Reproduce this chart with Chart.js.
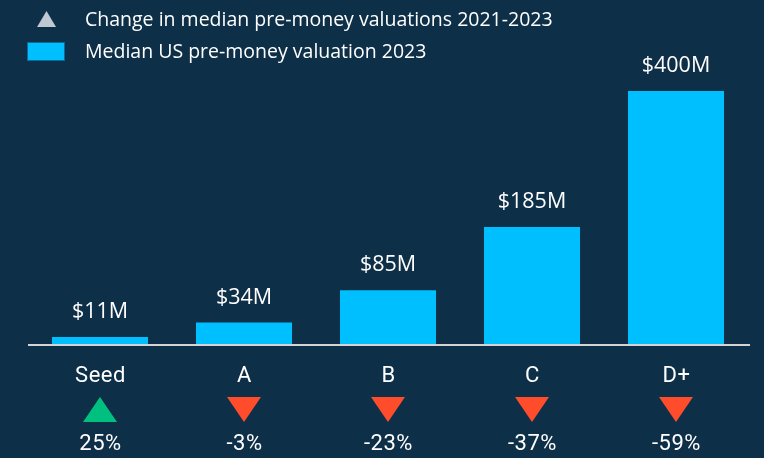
<!DOCTYPE html>
<html>
<head>
<meta charset="utf-8">
<script src="https://cdn.jsdelivr.net/npm/chart.js@4"></script>
<style>
  html, body { margin: 0; padding: 0; background: #0e2f48; }
  #wrap { width: 764px; height: 458px; }
</style>
</head>
<body>
<div id="wrap"><canvas id="chart" width="764" height="458"></canvas></div>
<script>
const stages = ['Seed', 'A', 'B', 'C', 'D+'];
const valuations = [11, 34, 85, 185, 400];
const changes = [25, -3, -23, -37, -59];
const legendLabels = ['Change in median pre-money valuations 2021-2023', 'Median US pre-money valuation 2023'];

const BG = '#0e2f48';
const BAR = '#00bfff';

const overlay = {
    id: 'overlay',
    afterDatasetsDraw(chart) {
        const ctx = chart.ctx;
        const area = chart.chartArea;
        const x = chart.scales.x;
        const meta = chart.getDatasetMeta(0);

        // axis line
        ctx.save();
        ctx.strokeStyle = '#d4d4d4';
        ctx.lineWidth = 2;
        ctx.beginPath();
        ctx.moveTo(area.left, area.bottom + 1);
        ctx.lineTo(area.right + 2, area.bottom + 1);
        ctx.stroke();

        // value labels
        ctx.fillStyle = '#ffffff';
        ctx.textAlign = 'center';
        ctx.textBaseline = 'middle';
        ctx.font = '21.5px "Open Sans", sans-serif';
        meta.data.forEach((bar, i) => {
            ctx.fillText('$' + valuations[i] + 'M', bar.x, bar.y - 25);
        });

        // category labels, arrows, percentages
        ctx.letterSpacing = '0.5px';
        stages.forEach((s, i) => {
            const px = x.getPixelForValue(i);
            ctx.fillStyle = '#ffffff';
            ctx.font = '22px Roboto, sans-serif';
            ctx.fillText(s, px + 0.5, 376);

            const up = changes[i] >= 0;
            ctx.fillStyle = up ? '#00c07f' : '#ff4d2b';
            ctx.beginPath();
            if (up) {
                ctx.moveTo(px, 397);
                ctx.lineTo(px + 17, 422);
                ctx.lineTo(px - 17, 422);
            } else {
                ctx.moveTo(px - 17, 397);
                ctx.lineTo(px + 17, 397);
                ctx.lineTo(px, 422);
            }
            ctx.closePath();
            ctx.fill();

            ctx.fillStyle = '#ffffff';
            ctx.fillText(changes[i] + '%', px + 0.5, 444);
        });
        ctx.letterSpacing = '0px';

        // legend
        ctx.fillStyle = '#c0c8d2';
        ctx.beginPath();
        ctx.moveTo(46.5, 11);
        ctx.lineTo(56, 27);
        ctx.lineTo(37, 27);
        ctx.closePath();
        ctx.fill();

        ctx.fillStyle = BAR;
        ctx.fillRect(27, 42, 38, 19);
        ctx.strokeStyle = '#0a6a9a';
        ctx.lineWidth = 1;
        ctx.strokeRect(27.5, 42.5, 37, 18);

        ctx.fillStyle = '#ffffff';
        ctx.textAlign = 'left';
        ctx.font = '19.5px "Open Sans", sans-serif';
        ctx.fillText(legendLabels[0], 85, 20);
        ctx.fillText(legendLabels[1], 85, 52);
        ctx.restore();
    }
};

new Chart(document.getElementById('chart'), {
    type: 'bar',
    data: {
        labels: stages,
        datasets: [{
            label: legendLabels[1],
            data: valuations,
            backgroundColor: BAR,
            borderWidth: 0,
            categoryPercentage: 1,
            barPercentage: 0.667
        }]
    },
    options: {
        responsive: false,
        animation: false,
        layout: { padding: { left: 28, right: 16, top: 0, bottom: 114 } },
        plugins: {
            legend: { display: false },
            tooltip: { enabled: false }
        },
        scales: {
            x: { display: false },
            y: { display: false, min: 0, max: 544 }
        }
    },
    plugins: [overlay]
});
</script>
</body>
</html>
